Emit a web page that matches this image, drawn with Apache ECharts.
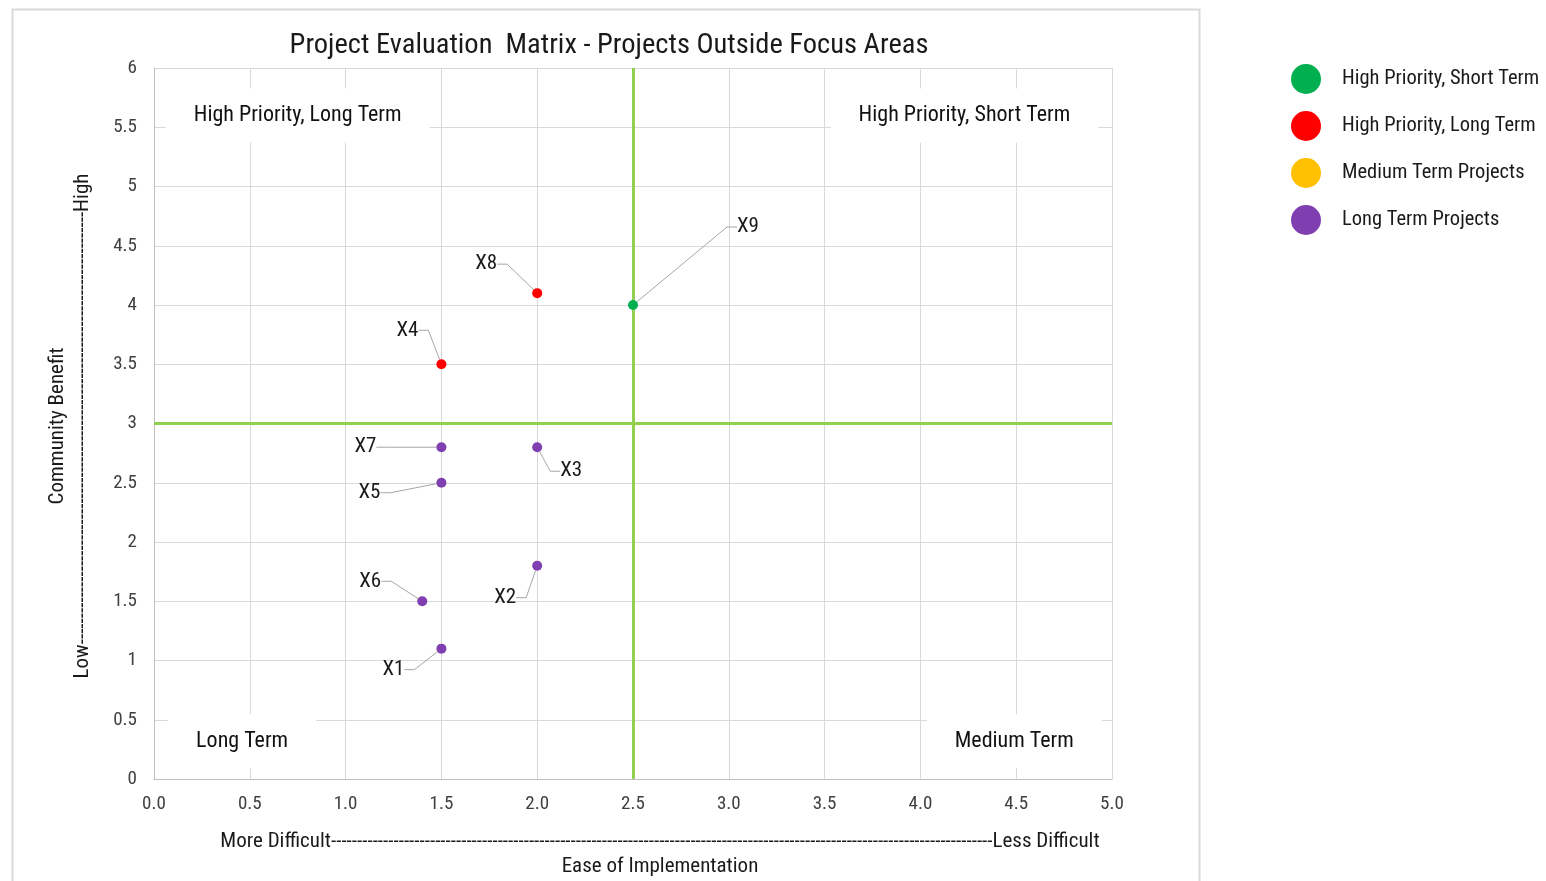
<!DOCTYPE html>
<html>
<head>
<meta charset="utf-8">
<title>Project Evaluation Matrix</title>
<script src="https://cdn.jsdelivr.net/npm/echarts@6/dist/echarts.min.js"></script>
<style>
  html, body { margin: 0; padding: 0; background: #fff; }
  #chart { width: 1546px; height: 881px; }
</style>
</head>
<body>
<div id="chart"></div>
<script>
// Projects per category: [ease of implementation, community benefit, name]
const highShortTerm = [[2.5, 4.0, 'X9']];
const highLongTerm = [[2.0, 4.1, 'X8'], [1.5, 3.5, 'X4']];
const mediumTerm = [];
const longTerm = [
  [1.5, 2.8, 'X7'], [2.0, 2.8, 'X3'], [1.5, 2.5, 'X5'],
  [2.0, 1.8, 'X2'], [1.4, 1.5, 'X6'], [1.5, 1.1, 'X1']
];
const seriesNames = ['High Priority, Short Term', 'High Priority, Long Term', 'Medium Term Projects', 'Long Term Projects'];
const quadrantNames = ['High Priority, Long Term', 'High Priority, Short Term', 'Long Term', 'Medium Term'];
const xDivider = 2.5;
const yDivider = 3;

// Layout and styling
const FONT = "'Liberation Sans Narrow', 'Arial Narrow', 'Roboto Condensed', 'DejaVu Sans Condensed', sans-serif";
const colors = ['#00B050', '#FF0000', '#FFC000', '#7F3FB0'];
const labelOffsets = {
  X9: [115, -78], X8: [-51, -29], X4: [-34, -34], X7: [-76, 0], X3: [34, 24],
  X5: [-72, 10], X6: [-52, -20], X2: [-32, 32], X1: [-48, 21]
};
const quadrantAnchors = [[0.75, 5.60], [4.23, 5.60], [0.46, 0.32], [4.49, 0.32]];

const chart = echarts.init(document.getElementById('chart'), null, { renderer: 'canvas' });

function projectSeries(name, data, color) {
  return {
    name: name,
    type: 'scatter',
    symbol: 'circle',
    symbolSize: 10,
    itemStyle: { color: color, opacity: 1 },
    data: data.map(d => ({ value: [d[0], d[1]], name: d[2] })),
    label: {
      show: true,
      position: 'inside',
      formatter: p => p.name,
      fontFamily: FONT,
      fontSize: 21,
      color: '#1a1a1a'
    },
    labelLine: { show: true, length2: 10, lineStyle: { color: '#a6a6a6', width: 1 } },
    labelLayout: function (p) {
      const o = labelOffsets[p.text] || [0, 0];
      return { dx: o[0], dy: o[1] };
    },
    emphasis: { disabled: true },
    z: 5
  };
}

const series = [
  projectSeries(seriesNames[0], highShortTerm, colors[0]),
  projectSeries(seriesNames[1], highLongTerm, colors[1]),
  projectSeries(seriesNames[2], mediumTerm, colors[2]),
  projectSeries(seriesNames[3], longTerm, colors[3]),
  {
    // quadrant captions on white boxes
    type: 'scatter',
    symbolSize: 0,
    silent: true,
    z: 3,
    itemStyle: { opacity: 1, color: '#ffffff' },
    data: quadrantNames.map((q, i) => ({ value: quadrantAnchors[i], name: q })),
    label: {
      show: true,
      position: 'inside',
      formatter: p => p.name,
      fontFamily: FONT,
      fontSize: 22,
      color: '#111111',
      opacity: 1,
      backgroundColor: '#ffffff',
      padding: [16, 28, 16, 28]
    },
    emphasis: { disabled: true },
    markLine: {
      silent: true,
      symbol: 'none',
      label: { show: false },
      lineStyle: { color: '#92D050', width: 3, type: 'solid', opacity: 1 },
      data: [{ xAxis: xDivider }, { yAxis: yDivider }],
      z: 4
    }
  }
];

const axisTitleStyle = { fontFamily: FONT, fontSize: 21, fill: '#1a1a1a', align: 'center', verticalAlign: 'middle' };

chart.setOption({
  animation: false,
  backgroundColor: '#ffffff',
  title: {
    text: 'Project Evaluation  Matrix - Projects Outside Focus Areas',
    left: 604,
    textAlign: 'center',
    top: 26,
    textStyle: { fontFamily: FONT, fontSize: 28.5, fontWeight: 'normal', color: '#1a1a1a' }
  },
  legend: {
    orient: 'vertical',
    left: 1286,
    top: 59,
    icon: 'circle',
    itemWidth: 30,
    itemHeight: 30,
    itemGap: 17,
    data: seriesNames,
    textStyle: { fontFamily: FONT, fontSize: 20.5, color: '#1a1a1a', padding: [0, 0, 0, 16] }
  },
  grid: { left: 154, right: 434, top: 68, bottom: 102, containLabel: false },
  xAxis: {
    type: 'value',
    min: 0, max: 5, interval: 0.5,
    axisLine: { show: true, lineStyle: { color: '#bfbfbf', width: 1 } },
    axisTick: { show: false },
    axisLabel: { formatter: v => v.toFixed(1), fontFamily: FONT, fontSize: 19, color: '#404040', margin: 16 },
    splitLine: { show: true, lineStyle: { color: '#d9d9d9', width: 1 } }
  },
  yAxis: {
    type: 'value',
    min: 0, max: 6, interval: 0.5,
    axisLine: { show: true, lineStyle: { color: '#bfbfbf', width: 1 } },
    axisTick: { show: false },
    axisLabel: { fontFamily: FONT, fontSize: 19, color: '#404040', margin: 17 },
    splitLine: { show: true, lineStyle: { color: '#d9d9d9', width: 1 } }
  },
  graphic: [
    {
      type: 'rect',
      left: 10, top: 7,
      shape: { width: 1187, height: 880 },
      style: { fill: 'none', stroke: '#d9d9d9', lineWidth: 2 },
      silent: true, z: -1
    },
    {
      type: 'text',
      x: 660, y: 842,
      style: Object.assign({ text: 'More Difficult' + '-'.repeat(127) + 'Less Difficult' }, axisTitleStyle)
    },
    {
      type: 'text',
      x: 660, y: 867,
      style: Object.assign({ text: 'Ease of Implementation' }, axisTitleStyle)
    },
    {
      type: 'text',
      x: 83, y: 426, rotation: Math.PI / 2,
      style: Object.assign({ text: 'Low' + '-'.repeat(83) + 'High' }, axisTitleStyle)
    },
    {
      type: 'text',
      x: 58, y: 426, rotation: Math.PI / 2,
      style: Object.assign({ text: 'Community Benefit' }, axisTitleStyle)
    }
  ],
  series: series
});
</script>
</body>
</html>
